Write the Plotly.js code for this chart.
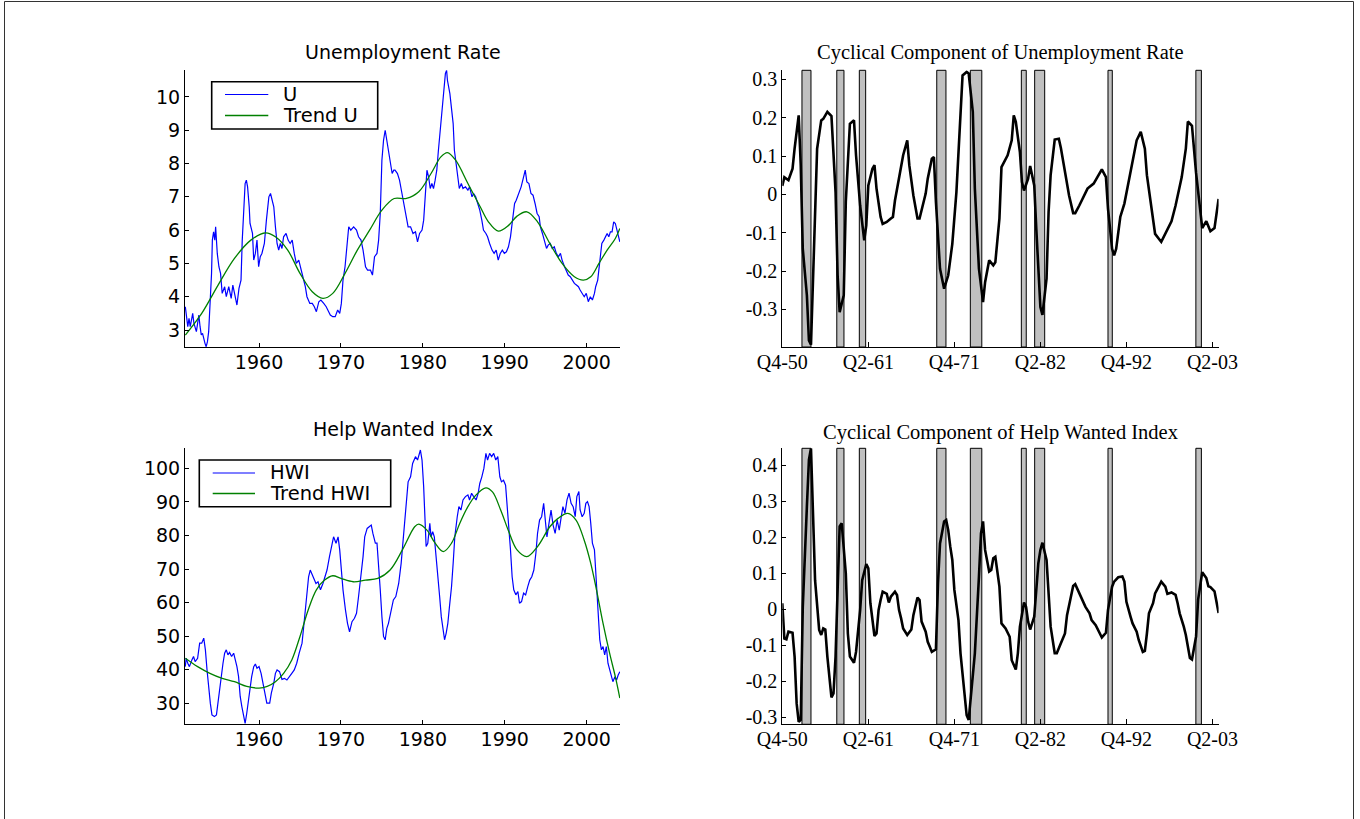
<!DOCTYPE html>
<html>
<head>
<meta charset="utf-8">
<script src="https://cdn.plot.ly/plotly-3.0.1.min.js"></script>
<style>html,body{margin:0;padding:0;background:#fff;}#chart{width:1360px;height:819px;}</style>
</head>
<body>
<div id="chart"></div>
<script>
// ---------- Unemployment rate (monthly) ----------
const uYear = [1951.0,1951.15,1951.3,1951.45,1951.6,1951.75,1951.9,1952.05,1952.2,1952.35,1952.5,1952.65,1952.8,1952.95,1953.1,1953.25,1953.4,1953.55,1953.7,1953.85,
1954.05,1954.2,1954.3,1954.45,1954.6,1954.7,1954.9,1955.1,1955.3,1955.5,1955.8,1956.0,1956.3,1956.6,1956.8,1957.1,1957.3,1957.55,1957.8,1957.95,
1958.1,1958.3,1958.45,1958.6,1958.8,1958.9,1959.2,1959.35,1959.55,1959.75,1959.95,1960.15,1960.35,1960.65,1960.9,1961.2,1961.4,1961.6,1961.8,1962.0,
1962.2,1962.4,1962.6,1962.8,1963.0,1963.3,1963.55,1963.8,1964.05,1964.3,1964.55,1964.85,1965.1,1965.35,1965.65,1965.85,1966.2,1966.5,1966.75,1967.0,
1967.3,1967.55,1967.9,1968.2,1968.5,1968.7,1969.0,1969.3,1969.6,1969.85,1970.05,1970.25,1970.5,1970.75,1970.95,1971.2,1971.55,1971.9,1972.15,1972.45,
1972.7,1973.0,1973.25,1973.6,1973.85,1974.1,1974.4,1974.6,1974.8,1975.0,1975.2,1975.4,1975.6,1975.8,1976.05,1976.25,1976.45,1976.6,1976.9,1977.15,
1977.45,1977.65,1977.95,1978.2,1978.5,1978.8,1979.1,1979.35,1979.6,1979.9,1980.1,1980.3,1980.5,1980.7,1980.9,1981.1,1981.3,1981.5,1981.7,1981.9,
1982.1,1982.3,1982.5,1982.75,1982.9,1983.0,1983.3,1983.45,1983.7,1983.85,1984.0,1984.25,1984.45,1984.7,1984.9,1985.2,1985.5,1985.7,1986.0,1986.2,
1986.45,1986.7,1986.95,1987.2,1987.4,1987.7,1987.9,1988.15,1988.45,1988.7,1988.95,1989.2,1989.45,1989.7,1989.95,1990.2,1990.45,1990.7,1990.95,1991.2,
1991.4,1991.7,1992.0,1992.3,1992.5,1992.7,1992.95,1993.2,1993.45,1993.7,1993.95,1994.2,1994.35,1994.6,1994.85,1995.1,1995.3,1995.55,1995.8,1996.05,
1996.3,1996.55,1996.8,1997.0,1997.3,1997.5,1997.75,1998.0,1998.25,1998.5,1998.75,1999.0,1999.2,1999.45,1999.7,1999.95,2000.2,2000.45,2000.7,2000.95,
2001.1,2001.35,2001.5,2001.7,2001.85,2002.1,2002.3,2002.5,2002.7,2002.9,2003.1,2003.3,2003.5,2003.7,2003.9,2004.05];
const uRate = [3.7,3.4,3.1,3.35,3.1,3.3,3.5,3.2,3.05,2.95,3.2,3.45,3.1,2.85,2.9,2.7,2.6,2.5,2.65,2.95,
3.9,4.7,5.7,5.95,5.7,6.1,5.3,4.9,4.7,4.1,4.3,4.0,4.3,3.95,4.35,4.0,3.75,4.25,4.5,5.7,
6.5,7.4,7.5,7.3,6.7,6.2,5.9,5.1,5.3,5.7,4.9,5.2,5.3,5.6,6.3,7.0,7.1,6.9,6.7,6.1,
5.6,5.4,5.6,5.45,5.8,5.9,5.7,5.6,5.7,5.3,5.0,5.1,4.8,4.6,4.3,4.0,3.8,3.8,3.7,3.55,
3.85,3.9,3.8,3.7,3.55,3.45,3.4,3.4,3.6,3.5,3.8,4.5,4.9,5.5,6.1,6.0,6.1,6.0,5.8,5.7,
5.4,4.9,4.8,4.8,4.65,5.2,5.3,5.7,6.5,8.1,8.7,9.0,8.7,8.4,8.1,7.7,7.8,7.8,7.7,7.5,
7.1,6.8,6.4,6.1,6.1,5.9,5.95,5.65,5.9,6.0,6.3,7.2,7.8,7.6,7.25,7.4,7.25,7.5,7.8,8.4,
9.0,9.5,10.1,10.7,10.8,10.5,10.1,9.7,9.2,8.4,8.1,7.5,7.25,7.4,7.25,7.3,7.2,7.3,7.0,7.1,
7.0,6.8,6.6,6.3,6.0,5.9,5.8,5.6,5.4,5.3,5.4,5.1,5.3,5.4,5.3,5.35,5.5,5.8,6.3,6.8,
6.9,7.1,7.3,7.6,7.8,7.45,7.4,7.1,7.05,6.8,6.5,6.4,6.1,5.9,5.7,5.45,5.55,5.6,5.45,5.5,
5.3,5.2,5.3,5.1,4.9,4.8,4.65,4.6,4.5,4.4,4.35,4.3,4.2,4.1,4.0,4.1,3.85,4.0,3.9,4.1,
4.3,4.5,4.8,5.2,5.6,5.7,5.8,5.9,5.8,5.95,5.95,6.25,6.2,6.0,5.8,5.65];

const uTrendYear = [1951,1953,1955,1957,1959,1960.8,1962,1963.5,1965,1966.5,1967.8,1969,1970.5,1972,1973.5,1975,1976.5,1978,1979.5,1981,
1982.2,1983,1984,1985.5,1987,1988,1989.2,1990.5,1991.5,1992.7,1994,1995.5,1997,1998.5,1999.6,2000.5,2001.5,2002.5,2003.5,2004.05];
const uTrend = [2.85,3.5,4.35,5.15,5.7,5.92,5.8,5.4,4.7,4.15,3.95,4.1,4.7,5.4,6.0,6.6,6.95,6.95,7.15,7.7,
8.2,8.33,8.1,7.4,6.7,6.25,5.97,6.15,6.42,6.55,6.25,5.6,5.0,4.6,4.5,4.6,5.0,5.4,5.75,6.05];

// ---------- Help Wanted Index ----------
const hwiYear = [1951.0,1951.1,1951.3,1951.5,1951.8,1952.0,1952.2,1952.5,1952.75,1953.0,1953.25,1953.45,1953.65,1953.85,1954.05,1954.25,1954.55,1954.8,1955.0,1955.2,
1955.4,1955.6,1955.8,1956.0,1956.2,1956.4,1956.65,1956.9,1957.1,1957.3,1957.5,1957.7,1957.9,1958.1,1958.3,1958.5,1958.7,1958.9,1959.1,1959.35,
1959.55,1959.75,1960.0,1960.25,1960.5,1960.7,1960.95,1961.3,1961.5,1961.8,1962.0,1962.2,1962.5,1962.8,1963.1,1963.4,1963.75,1964.0,1964.3,1964.6,
1964.9,1965.25,1965.45,1965.65,1965.85,1966.05,1966.25,1966.45,1966.65,1966.95,1967.2,1967.5,1967.8,1968.05,1968.3,1968.6,1968.85,1969.1,1969.4,1969.65,
1969.85,1970.05,1970.25,1970.55,1970.8,1971.05,1971.35,1971.65,1971.9,1972.15,1972.45,1972.7,1972.9,1973.2,1973.45,1973.7,1973.9,1974.2,1974.4,1974.6,
1974.8,1975.0,1975.2,1975.4,1975.6,1975.8,1976.1,1976.4,1976.7,1977.05,1977.35,1977.65,1977.95,1978.2,1978.5,1978.75,1979.1,1979.35,1979.7,1979.9,
1980.1,1980.3,1980.4,1980.6,1980.85,1981.0,1981.2,1981.4,1981.6,1981.85,1982.05,1982.25,1982.45,1982.65,1982.85,1983.05,1983.25,1983.5,1983.7,1983.9,
1984.2,1984.4,1984.65,1984.9,1985.2,1985.5,1985.7,1985.95,1986.2,1986.5,1986.75,1986.95,1987.2,1987.45,1987.7,1987.9,1988.15,1988.4,1988.65,1988.9,
1989.15,1989.4,1989.6,1989.85,1990.1,1990.25,1990.5,1990.7,1990.9,1991.1,1991.35,1991.6,1991.8,1992.05,1992.3,1992.55,1992.8,1993.05,1993.3,1993.55,
1993.8,1994.0,1994.25,1994.5,1994.75,1994.95,1995.15,1995.4,1995.65,1995.9,1996.15,1996.4,1996.65,1996.9,1997.1,1997.35,1997.6,1997.85,1998.1,1998.35,
1998.6,1998.8,1999.05,1999.2,1999.45,1999.7,1999.9,2000.1,2000.3,2000.5,2000.7,2000.95,2001.1,2001.25,2001.45,2001.6,2001.8,2002.0,2002.2,2002.4,
2002.6,2002.8,2003.0,2003.2,2003.45,2003.65,2003.85,2004.05];
const hwi = [40.9,43.4,41.9,40.9,42.9,43.9,42.4,43.4,47.9,47.9,49.4,45.9,39.9,34.0,30.0,26.5,26.0,26.5,30.5,34.0,
38.9,41.9,44.9,45.9,44.4,45.1,43.9,44.9,42.9,40.9,37.9,32.0,29.0,26.0,24.0,27.0,31.0,34.0,37.9,40.9,
41.7,40.4,40.9,38.9,36.0,33.0,30.0,30.0,33.0,36.0,38.9,39.9,39.4,37.1,37.4,36.9,37.9,38.9,39.9,41.9,
44.9,47.9,52.8,57.8,62.8,67.7,69.7,68.7,67.2,65.7,66.2,63.8,65.7,67.7,69.7,73.7,76.7,79.6,77.7,79.6,
75.7,69.7,63.8,57.8,53.8,51.3,54.3,55.3,56.8,61.8,67.7,73.7,79.6,82.1,82.6,83.1,80.6,77.7,77.7,71.7,
63.8,55.8,49.9,48.9,52.3,53.8,57.3,60.8,61.8,65.7,71.7,79.6,87.6,96.0,97.5,101.5,103.5,102.5,105.5,102.5,
94.5,81.6,76.7,77.7,83.6,79.6,81.1,79.6,74.7,67.7,61.8,55.8,51.8,48.9,50.9,53.8,58.8,64.7,71.7,79.6,
85.6,88.6,87.6,90.6,91.6,92.1,90.6,92.6,91.6,90.6,92.6,95.5,97.5,100.0,104.5,102.5,104.5,103.5,104.5,102.5,
103.5,97.5,96.0,96.5,95.0,90.6,83.6,75.7,67.7,63.8,62.3,63.3,59.8,60.3,62.8,62.3,64.7,66.7,67.7,69.7,
74.7,80.6,84.6,85.6,89.6,84.6,79.6,83.6,87.6,83.1,80.6,84.6,81.6,85.6,88.6,86.6,90.6,92.6,89.6,88.6,
85.6,91.6,93.1,87.6,85.6,86.6,89.6,90.1,88.6,83.6,77.7,75.7,69.7,61.8,53.8,48.9,45.9,46.9,44.4,46.9,
41.9,39.9,37.9,36.4,37.9,36.9,38.4,39.4];

const hwiTrendYear = [1951,1952.5,1954,1955.5,1957,1958.5,1960,1961,1962,1963,1964,1965,1966,1967,1968,1969,1970,1971.5,1973,1974.5,
1976,1977.5,1979,1979.5,1980.5,1981.5,1982.5,1983.5,1984.5,1985.5,1986.5,1987.7,1988.5,1989.5,1990.5,1991.5,1992.7,1994,1995.5,1996.5,
1997.7,1998.7,1999.7,2000.5,2001.2,2002,2002.8,2003.5,2004.05];
const hwiTrend = [43.4,40.9,38.9,37.4,36.4,35.0,34.5,35.0,36.4,38.9,42.9,49.9,57.8,63.8,66.7,68.0,67.2,66.2,66.7,67.2,
69.7,75.7,82.6,83.4,81.6,77.7,75.2,77.7,83.6,88.6,92.1,94.2,93.0,87.6,81.1,75.7,73.7,76.7,82.6,85.1,
86.6,84.6,78.6,71.7,63.8,53.8,44.9,37.9,31.5];

// ---------- Cyclical components (quarter index 0 = Q4-50) ----------
const uCycQ = [0,1,3,5,6,8,9,10,12,13,14,15,17,19,20,22,24,26,27,28,30,31,33,35,36,38,40,41,42,44,45,46,48,49,51,53,54,55,57,59,
61,62,64,66,67,69,70,71,73,74,75,77,79,81,83,85,87,88,90,91,93,94,96,98,99,101,103,104,106,107,110,112,113,114,116,117,118,120,121,123,
124,125,126,127,129,130,131,133,135,136,138,140,142,143,145,147,149,152,153,155,156,158,159,161,162,163,165,167,169,171,173,175,177,178,180,182,
185,186,188,190,192,194,195,197,198,200,202,204,205,207,209,211,212,213];
const uCyc = [0.022,0.045,0.037,0.067,0.119,0.206,0.076,-0.142,-0.263,-0.381,-0.392,-0.22,0.119,0.193,0.197,0.215,0.204,0.006,-0.211,-0.307,-0.263,-0.02,0.184,0.193,0.102,-0.029,-0.12,-0.081,0.023,0.067,0.076,0.015,-0.059,-0.077,-0.072,-0.063,-0.059,-0.016,0.041,0.102,
0.141,0.076,-0.003,-0.063,-0.063,-0.016,0.002,0.041,0.093,0.097,-0.02,-0.194,-0.246,-0.211,-0.129,0.006,0.223,0.31,0.319,0.315,0.215,0.015,-0.194,-0.281,-0.229,-0.172,-0.185,-0.177,-0.063,0.071,0.102,0.141,0.206,0.189,0.11,0.032,0.01,0.041,0.074,0.023,
-0.09,-0.194,-0.294,-0.314,-0.22,-0.046,0.05,0.143,0.145,0.121,0.058,-0.003,-0.049,-0.049,-0.029,-0.007,0.015,0.028,0.037,0.054,0.065,0.045,-0.037,-0.142,-0.159,-0.142,-0.059,-0.024,0.032,0.08,0.141,0.163,0.119,0.05,-0.02,-0.103,
-0.124,-0.113,-0.094,-0.07,-0.029,0.015,0.045,0.119,0.19,0.179,0.056,-0.04,-0.088,-0.07,-0.096,-0.088,-0.049,-0.012];

const hwiCycQ = [0,1,2,3,5,6,7,8,9,10,12,13,14,15,16,18,19,20,21,22,23,24,25,26,27,28,29,31,32,33,35,36,38,39,41,42,43,45,46,47,
48,49,51,52,53,55,56,57,58,59,61,63,64,65,66,67,68,70,71,72,73,75,76,77,79,80,81,82,83,84,86,87,89,90,91,92,94,96,97,98,
99,101,102,103,104,106,107,109,111,112,114,115,116,118,119,120,121,123,124,125,126,127,129,130,131,133,134,136,138,139,141,142,143,145,146,148,150,151,153,155,
156,158,159,161,162,164,166,167,168,170,171,173,174,176,177,178,179,181,182,184,185,187,188,190,192,193,194,196,197,199,200,202,203,205,207,208,209,211,213];
const hwiCyc = [0.017,-0.081,-0.083,-0.062,-0.065,-0.131,-0.261,-0.312,-0.307,0.007,0.285,0.415,0.447,0.239,0.081,-0.057,-0.071,-0.053,-0.056,-0.131,-0.196,-0.244,-0.233,-0.131,0.054,0.23,0.239,0.1,-0.067,-0.131,-0.148,-0.118,-0.002,0.081,0.126,0.114,0.017,-0.074,-0.067,-0.002,
0.026,0.049,0.043,0.019,0.035,0.049,0.04,-0.002,-0.025,-0.053,-0.071,-0.056,-0.016,0.012,0.033,0.026,-0.034,-0.062,-0.09,-0.104,-0.118,-0.111,0.072,0.183,0.244,0.248,0.22,0.174,0.137,0.054,-0.03,-0.122,-0.233,-0.294,-0.307,-0.252,-0.122,0.09,0.211,0.244,
0.165,0.105,0.109,0.142,0.146,0.063,-0.039,-0.053,-0.076,-0.141,-0.167,-0.122,-0.048,0.019,0.007,-0.034,-0.056,-0.02,0.063,0.128,0.165,0.185,0.137,0.054,-0.048,-0.122,-0.122,-0.094,-0.067,-0.016,0.035,0.065,0.07,0.044,0.028,0.007,-0.011,-0.03,-0.044,-0.065,
-0.078,-0.065,-0.002,0.063,0.077,0.089,0.091,0.077,0.021,-0.02,-0.039,-0.062,-0.085,-0.118,-0.115,-0.067,-0.011,0.017,0.044,0.066,0.077,0.063,0.043,0.047,0.04,0.017,-0.011,-0.048,-0.071,-0.135,-0.139,-0.075,0.027,0.103,0.087,0.064,0.062,0.05,-0.01];

// Recession shading, in quarter index
const recStart = [9.6,26.6,37.6,75.4,91.8,116.7,123.2,159.0,201.9];
const recEnd   = [14.0,30.1,40.7,79.9,97.4,119.1,128.1,161.1,204.6];

// Tick labels
const yearTicks = [1960,1970,1980,1990,2000];
const quarterTickPos = [0,42,84,126,168,210];
const quarterTickText = ['Q4-50','Q2-61','Q4-71','Q2-82','Q4-92','Q2-03'];
const uTicks = [3,4,5,6,7,8,9,10];
const hwiTicks = [30,40,50,60,70,80,90,100];
const uCycTicks = [-0.3,-0.2,-0.1,0,0.1,0.2,0.3];
const hwiCycTicks = [-0.3,-0.2,-0.1,0,0.1,0.2,0.3,0.4];
const fmt = v => (v < 0 ? '-' : '') + String(Math.abs(v));

// ---------- geometry ----------
const W = 1360, H = 819;
const px = v => v / W, py = v => 1 - v / H;
const SANS = 'DejaVu Sans', SERIF = 'Liberation Serif';

const leftX = [px(185), px(620)];
const rightX = [px(782.3), px(1218.6)];
const topY = [py(347), py(70.3)];
const botY = [py(724.3), py(448.3)];

function axisBase(font, size) {
  return {showline:true, linecolor:'#000', linewidth:1, showgrid:false, zeroline:false,
          ticks:'inside', ticklen:4, tickwidth:1, tickcolor:'#000',
          tickfont:{family:font, size:size, color:'#000'}, mirror:false, fixedrange:true};
}

const BLUE = {color:'#0000ff', width:1.2};
const GREEN = {color:'#008000', width:1.3};

const traces = [
  {x:uYear, y:uRate, xaxis:'x', yaxis:'y', type:'scatter', mode:'lines', name:'U', line:BLUE},
  {x:uTrendYear, y:uTrend, xaxis:'x', yaxis:'y', type:'scatter', mode:'lines', name:'Trend U',
   line:Object.assign({shape:'spline', smoothing:1}, GREEN)},
  {x:uCycQ, y:uCyc, xaxis:'x2', yaxis:'y2', type:'scatter', mode:'lines', name:'Cyclical U',
   line:{color:'#000', width:2.6}},
  {x:hwiYear, y:hwi, xaxis:'x3', yaxis:'y3', type:'scatter', mode:'lines', name:'HWI', line:BLUE},
  {x:hwiTrendYear, y:hwiTrend, xaxis:'x3', yaxis:'y3', type:'scatter', mode:'lines', name:'Trend HWI',
   line:Object.assign({shape:'spline', smoothing:1}, GREEN)},
  {x:hwiCycQ, y:hwiCyc, xaxis:'x4', yaxis:'y4', type:'scatter', mode:'lines', name:'Cyclical HWI',
   line:{color:'#000', width:2.6}}
];

const shapes = [];
const annotations = [];
['x2','x4'].forEach((xa, k) => {
  const ya = k === 0 ? 'y2' : 'y4';
  recStart.forEach((s, i) => {
    shapes.push({type:'rect', xref:xa, yref:ya + ' domain', x0:s, x1:recEnd[i], y0:0, y1:1,
                 fillcolor:'#c0c0c0', line:{color:'#000', width:1}, layer:'below'});
  });
});
// outer frame
shapes.push({type:'rect', xref:'paper', yref:'paper', x0:px(4.5), x1:px(1353.5), y0:-0.05, y1:py(1.5),
             line:{color:'#333', width:1}, fillcolor:'rgba(0,0,0,0)', layer:'above'});

// Boxed legends, built from the trace names and styles
function boxLegend(items, box, sample, textX, rowY, fontSize) {
  shapes.push({type:'rect', xref:'paper', yref:'paper', x0:px(box[0]), x1:px(box[1]), y0:py(box[3]), y1:py(box[2]),
               fillcolor:'#fff', line:{color:'#000', width:1.6}, layer:'above'});
  items.forEach((tr, i) => {
    shapes.push({type:'line', xref:'paper', yref:'paper', x0:px(sample[0]), x1:px(sample[1]), y0:py(rowY[i]), y1:py(rowY[i]),
                 line:{color:tr.line.color, width:tr.line.width}, layer:'above'});
    annotations.push({text:tr.name, x:px(textX), y:py(rowY[i]), xref:'paper', yref:'paper', showarrow:false,
                      xanchor:'left', yanchor:'middle', font:{family:SANS, size:fontSize, color:'#000'}});
  });
}
boxLegend([traces[0], traces[1]], [211.7, 377.7, 81.7, 129], [225, 268.3], 280.5, [94.5, 115.5], 19.5);
boxLegend([traces[3], traces[4]], [199.3, 390.7, 460, 506.7], [212.7, 255], 268, [473, 493.5], 19.5);

annotations.push(
  {text:'Unemployment Rate', x:px(402.5), y:py(51.5), xref:'paper', yref:'paper', showarrow:false, xanchor:'center', yanchor:'middle', font:{family:SANS, size:19, color:'#000'}},
  {text:'Help Wanted Index', x:px(402.5), y:py(429), xref:'paper', yref:'paper', showarrow:false, xanchor:'center', yanchor:'middle', font:{family:SANS, size:19, color:'#000'}},
  {text:'Cyclical Component of Unemployment Rate', x:px(1000.5), y:py(52), xref:'paper', yref:'paper', showarrow:false, xanchor:'center', yanchor:'middle', font:{family:SERIF, size:20.5, color:'#000'}},
  {text:'Cyclical Component of Help Wanted Index', x:px(1000.5), y:py(432), xref:'paper', yref:'paper', showarrow:false, xanchor:'center', yanchor:'middle', font:{family:SERIF, size:20.5, color:'#000'}}
);

const layout = {
  width:W, height:H, margin:{l:0, r:0, t:0, b:0}, paper_bgcolor:'#fff', plot_bgcolor:'rgba(0,0,0,0)',
  font:{family:SANS, color:'#000'}, showlegend:false, hovermode:false,
  xaxis: Object.assign(axisBase(SANS, 19), {domain:leftX, anchor:'y', range:[1950.96, 2004.07], tickvals:yearTicks, ticklabelstandoff:-2}),
  yaxis: Object.assign(axisBase(SANS, 19), {domain:topY, anchor:'x', range:[2.49, 10.8], tickvals:uTicks}),
  xaxis2: Object.assign(axisBase(SERIF, 20), {domain:rightX, anchor:'y2', range:[0, 213], tickvals:quarterTickPos, ticktext:quarterTickText, ticklen:5, ticklabelstandoff:-3}),
  yaxis2: Object.assign(axisBase(SERIF, 20), {domain:topY, anchor:'x2', range:[-0.398, 0.3235], tickvals:uCycTicks, ticktext:uCycTicks.map(fmt)}),
  xaxis3: Object.assign(axisBase(SANS, 19), {domain:leftX, anchor:'y3', range:[1950.96, 2004.07], tickvals:yearTicks, ticklabelstandoff:-2}),
  yaxis3: Object.assign(axisBase(SANS, 19), {domain:botY, anchor:'x3', range:[23.7, 106], tickvals:hwiTicks}),
  xaxis4: Object.assign(axisBase(SERIF, 20), {domain:rightX, anchor:'y4', range:[0, 213], tickvals:quarterTickPos, ticktext:quarterTickText, ticklen:5, ticklabelstandoff:-3}),
  yaxis4: Object.assign(axisBase(SERIF, 20), {domain:botY, anchor:'x4', range:[-0.319, 0.447], tickvals:hwiCycTicks, ticktext:hwiCycTicks.map(fmt)}),
  shapes: shapes,
  annotations: annotations
};

Plotly.newPlot('chart', traces, layout, {displayModeBar:false, staticPlot:true});
</script>
</body>
</html>
